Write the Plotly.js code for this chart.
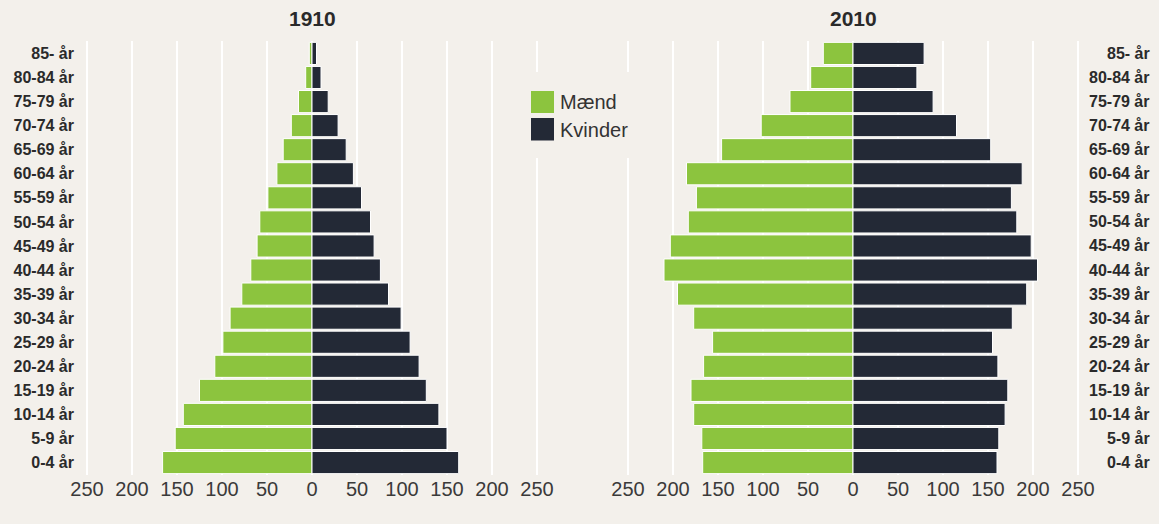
<!DOCTYPE html>
<html>
<head>
<meta charset="utf-8">
<script src="https://cdn.plot.ly/plotly-3.0.1.min.js"></script>
<style>
  html, body { margin: 0; padding: 0; background: #f3f0eb; }
  #chart { width: 1159px; height: 524px; }
</style>
</head>
<body>
<div id="chart"></div>
<script>
// Age groups, youngest at the bottom
const ageGroups = ['0-4 år', '5-9 år', '10-14 år', '15-19 år', '20-24 år', '25-29 år', '30-34 år', '35-39 år', '40-44 år',
                   '45-49 år', '50-54 år', '55-59 år', '60-64 år', '65-69 år', '70-74 år', '75-79 år', '80-84 år', '85- år'];

// Thousands of persons
const men1910   = [166, 152, 143, 125, 108, 99, 91, 78, 68, 61, 58, 49, 39, 32, 23, 15, 7, 3];
const women1910 = [163, 150, 141, 127, 119, 109, 99, 85, 76, 69, 65, 55, 46, 38, 29, 18, 10, 5];
const men2010   = [167, 168, 177, 180, 166, 156, 177, 195, 210, 203, 183, 174, 185, 146, 102, 70, 47, 33];
const women2010 = [160, 162, 169, 172, 161, 155, 177, 193, 205, 198, 182, 176, 188, 153, 115, 89, 71, 79];

const tickVals = [-250, -200, -150, -100, -50, 0, 50, 100, 150, 200, 250];
const tickText = ['250', '200', '150', '100', '50', '0', '50', '100', '150', '200', '250'];

const panelTitles = ['1910', '2010'];
const seriesNames = ['Mænd', 'Kvinder'];

const GREEN = '#8cc43e';
const DARK = '#232936';
const BG = '#f3f0eb';
const W = 1159, H = 524;
const px = v => v / W;
const py = v => (H - v) / H;

const neg = arr => arr.map(v => -v);

function bar(x, y, color, xa, ya, name) {
  return {
    type: 'bar', orientation: 'h', x: x, y: y, name: name,
    xaxis: xa, yaxis: ya, showlegend: false,
    marker: { color: color, line: { color: '#ffffff', width: 1 } },
    hoverinfo: 'x+y'
  };
}

const data = [
  bar(neg(men1910), ageGroups, GREEN, 'x', 'y', seriesNames[0]),
  bar(women1910, ageGroups, DARK, 'x', 'y', seriesNames[1]),
  bar(neg(men2010), ageGroups, GREEN, 'x2', 'y2', seriesNames[0]),
  bar(women2010, ageGroups, DARK, 'x2', 'y2', seriesNames[1])
];

const yDomain = [py(474.6), py(41.4)];
const xCommon = {
  range: [-260, 260], tickmode: 'array', tickvals: tickVals, ticktext: tickText,
  showgrid: true, gridcolor: '#ffffff', gridwidth: 2, zeroline: false, showline: false,
  ticks: '', tickfont: { family: 'Liberation Sans, Arial, sans-serif', size: 20, color: '#3a3a3a' },
  fixedrange: true
};
const yCommon = {
  type: 'category', domain: yDomain, showgrid: false, zeroline: false, showline: false, ticks: '',
  fixedrange: true
};

const annotations = [];
panelTitles.forEach((t, i) => {
  annotations.push({
    text: t, xref: 'paper', yref: 'paper', x: px(i === 0 ? 312 : 853), y: py(18),
    xanchor: 'center', yanchor: 'middle', showarrow: false,
    font: { family: 'Liberation Sans, Arial, sans-serif', size: 21, color: '#2a2a2a', weight: 700 }
  });
});
ageGroups.forEach(g => {
  annotations.push({
    text: g, xref: 'paper', yref: 'y2', x: px(1152), y: g,
    xanchor: 'right', yanchor: 'middle', showarrow: false,
    font: { family: 'Liberation Sans, Arial, sans-serif', size: 16, color: '#2a2a2a', weight: 700 }
  });
});
seriesNames.forEach((n, i) => {
  annotations.push({
    text: n, xref: 'paper', yref: 'paper', x: px(558), y: py(i === 0 ? 102.5 : 129.5),
    xanchor: 'left', yanchor: 'middle', showarrow: false,
    font: { family: 'Liberation Sans, Arial, sans-serif', size: 20, color: '#333333' }
  });
});

const shapes = [
  { type: 'rect', xref: 'paper', yref: 'paper', layer: 'above',
    x0: px(527), x1: px(645), y0: py(158), y1: py(72), fillcolor: BG, line: { width: 0 } },
  { type: 'rect', xref: 'paper', yref: 'paper', layer: 'above',
    x0: px(531), x1: px(554), y0: py(113), y1: py(91), fillcolor: GREEN, line: { width: 0 } },
  { type: 'rect', xref: 'paper', yref: 'paper', layer: 'above',
    x0: px(531), x1: px(554), y0: py(140.5), y1: py(118), fillcolor: DARK, line: { width: 0 } }
];

const layout = {
  width: W, height: H,
  margin: { l: 0, r: 0, t: 0, b: 0, pad: 0 },
  paper_bgcolor: BG, plot_bgcolor: BG,
  barmode: 'overlay', bargap: 0.08,
  showlegend: false,
  xaxis: Object.assign({}, xCommon, { domain: [px(78), px(546)], anchor: 'y' }),
  xaxis2: Object.assign({}, xCommon, { domain: [px(619), px(1087)], anchor: 'y2' }),
  yaxis: Object.assign({}, yCommon, { anchor: 'x', showticklabels: true, ticklabelstandoff: 3,
    tickfont: { family: 'Liberation Sans, Arial, sans-serif', size: 16, color: '#2a2a2a', weight: 700 } }),
  yaxis2: Object.assign({}, yCommon, { anchor: 'x2', showticklabels: false }),
  annotations: annotations,
  shapes: shapes
};

Plotly.newPlot('chart', data, layout, { displayModeBar: false, staticPlot: true });
</script>
</body>
</html>
